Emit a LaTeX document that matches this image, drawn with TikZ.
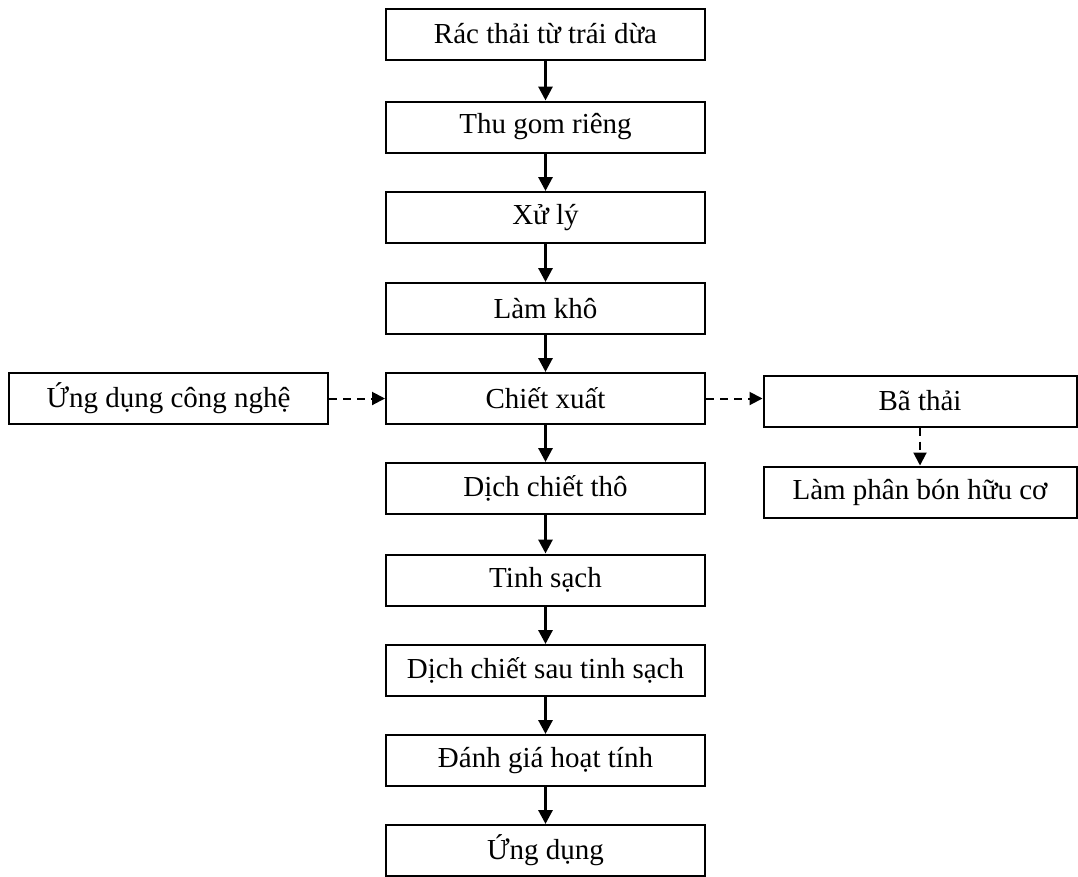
\documentclass[tikz,border=0pt]{standalone}
\usepackage{fontspec}
\setmainfont{Liberation Serif}
\usetikzlibrary{arrows.meta}
\begin{document}
\begin{tikzpicture}[x=1pt,y=-1pt,
  box/.style={draw,line width=2pt,minimum height=51pt,inner sep=0pt,font=\fontsize{29}{32}\selectfont,anchor=center},
  mainbox/.style={box,minimum width=319pt},
  flow/.style={line width=3pt,-{Triangle[length=14pt,width=14pt]}},
  dflow/.style={line width=2pt,dash pattern=on 8pt off 6pt,-{Triangle[length=13pt,width=13pt]}}]
\useasboundingbox (0,0) rectangle (1078,876);
\node[mainbox] (n1) at (545.5,34) {Rác thải từ trái dừa};
\node[mainbox] (n2) at (545.5,127) {Thu gom riêng};
\node[mainbox] (n3) at (545.5,217.5) {Xử lý};
\node[mainbox] (n4) at (545.5,308.5) {Làm khô};
\node[mainbox] (n5) at (545.5,398.5) {Chiết xuất};
\node[mainbox] (n6) at (545.5,488.5) {Dịch chiết thô};
\node[mainbox] (n7) at (545.5,580) {Tinh sạch};
\node[mainbox] (n8) at (545.5,670.5) {Dịch chiết sau tinh sạch};
\node[mainbox] (n9) at (545.5,760.5) {Đánh giá hoạt tính};
\node[mainbox] (n10) at (545.5,850.5) {Ứng dụng};
\node[box,minimum width=319pt] (l) at (168.5,398.5) {Ứng dụng công nghệ};
\node[box,minimum width=313pt] (r1) at (920,401) {Bã thải};
\node[box,minimum width=313pt] (r2) at (920,492) {Làm phân bón hữu cơ};
\foreach \a/\b in {n1/n2,n2/n3,n3/n4,n4/n5,n5/n6,n6/n7,n7/n8,n8/n9,n9/n10}
  \draw[flow] (\a) -- (\b);
\draw[dflow] (l.east) -- (n5.west);
\draw[dflow] (n5.east) -- (n5.east -| r1.west);
\draw[dflow] (r1) -- (r2);
\end{tikzpicture}
\end{document}
